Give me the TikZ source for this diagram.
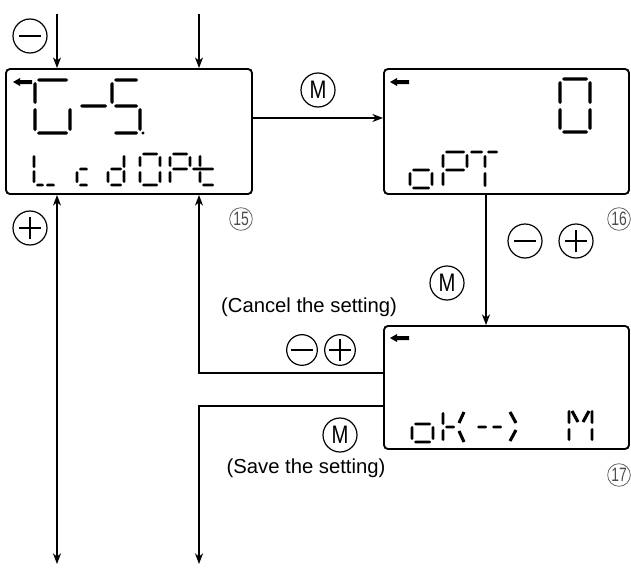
\documentclass[tikz,border=0pt]{standalone}
\usepackage{fontspec}
\usepackage{graphicx}
\setmainfont{Liberation Sans}
\usetikzlibrary{arrows.meta,calc}
\def\sh{1.6}
\newcommand\segH[3]{\fill ({#1},{#3}) -- ({#1+\sh},{#3-\sh}) -- ({#2-\sh},{#3-\sh}) -- ({#2},{#3}) -- ({#2-\sh},{#3+\sh}) -- ({#1+\sh},{#3+\sh}) -- cycle;}
\newcommand\segV[3]{\fill ({#1},{#2}) -- ({#1+\sh},{#2+\sh}) -- ({#1+\sh},{#3-\sh}) -- ({#1},{#3}) -- ({#1-\sh},{#3-\sh}) -- ({#1-\sh},{#2+\sh}) -- cycle;}
\newcommand\segD[4]{\draw[line width=2.3pt] (#1,#2) -- (#3,#4);}
\newcommand\lcdarrow[2]{\fill (#1,#2) -- ({#1+7},{#2-4}) -- ({#1+7},{#2-2}) -- ({#1+19},{#2-2}) -- ({#1+19},{#2+2}) -- ({#1+7},{#2+2}) -- ({#1+7},{#2+4}) -- cycle;}
\begin{document}
\begin{tikzpicture}[x=0.75pt,y=-0.75pt,
  panel/.style={draw, line width=1.4pt, rounded corners=3pt, inner sep=0},
  conn/.style={line width=1.1pt},
  arr/.style={conn, -{Stealth[length=8pt,width=6pt,inset=2.5pt]}},
  arrboth/.style={conn, {Stealth[length=8pt,width=6pt,inset=2.5pt]}-{Stealth[length=8pt,width=6pt,inset=2.5pt]}},
  btn/.style={circle, draw, line width=0.9pt, minimum size=25.5pt, inner sep=0},
  minusb/.style={btn, path picture={\draw[line width=0.9pt] ($(path picture bounding box.center)+(-11,0)$) -- ++(22,0);}},
  plusb/.style={btn, path picture={\draw[line width=0.9pt] ($(path picture bounding box.center)+(-11,0)$) -- ++(22,0) ($(path picture bounding box.center)+(0,-11)$) -- ++(0,22);}},
  mb/.style={btn, font=\fontsize{19}{19}\selectfont},
  numc/.style={circle, draw=black!60, text=black!70, line width=0.6pt, minimum size=17pt, inner sep=0, font=\fontsize{14.5}{14.5}\selectfont},
  lab/.style={inner sep=0, font=\fontsize{15.2}{17}\selectfont}
]
\useasboundingbox (0,0) rectangle (631,567);

% panels
\node[panel, minimum width=184.5pt, minimum height=93.75pt] (p1) at (129,131.5) {};
\node[panel, minimum width=183.75pt, minimum height=93.75pt] (p2) at (506.5,131.5) {};
\node[panel, minimum width=183.75pt, minimum height=92.25pt] (p3) at (506.5,387.5) {};

% coordinates
\coordinate (t1) at (57,14);
\coordinate (t2) at (199,14);
\coordinate (m1) at (0,118);
\coordinate (v1) at (486,0);
\coordinate (b1) at (57,564);
\coordinate (c1) at (199,373);
\coordinate (s1) at (199,406);
\coordinate (s2) at (199,564);

% connectors
\draw[arr] (t1) -- (t1 |- p1.north);
\draw[arr] (t2) -- (t2 |- p1.north);
\draw[arr] (p1.east |- m1) -- (p2.west |- m1);
\draw[arr] (v1 |- p2.south) -- (v1 |- p3.north);
\draw[arrboth] (b1 |- p1.south) -- (b1);
\draw[arr] (p3.west |- c1) -- (c1) -- (c1 |- p1.south);
\draw[arr] (p3.west |- s1) -- (s1) -- (s2);

% buttons
\node[minusb] (k1) at (30,36) {};
\node[plusb] (k2) at (30,228) {};
\node[mb] (k3) at (318,90) {\scalebox{0.8}[1]{M}};
\node[minusb] (k4) at (525,241) {};
\node[plusb] (k5) at (576,241) {};
\node[mb] (k6) at (447,283) {\scalebox{0.8}[1]{M}};
\node[minusb, minimum size=23pt] (k7) at (302,350) {};
\node[plusb, minimum size=23pt] (k8) at (340,350) {};
\node[mb] (k9) at (340,435) {\scalebox{0.8}[1]{M}};

% step numbers
\node[numc] (n15) at (241,219) {\scalebox{0.72}[1]{15}};
\node[numc] (n16) at (619,219) {\scalebox{0.72}[1]{16}};
\node[numc] (n17) at (619,475) {\scalebox{0.72}[1]{17}};

% labels
\node[lab] (l1) at (309,307) {(Cancel the setting)};
\node[lab] (l2) at (306,468) {(Save the setting)};

% ---------- LCD panel 1 ----------
\lcdarrow{13}{82}
% G
\segH{37}{68}{80}
\segV{35}{82}{104}
\segV{35}{108}{131}
\segH{37}{68}{133}
\segV{70}{108}{131}
% -
\segH{80}{107}{106}
% S
\segH{114}{138}{80}
\segV{112}{82}{104}
\segH{114}{138}{106}
\segV{140}{108}{131}
\segH{114}{138}{133}
\fill (143,133) circle (1.7);
% L
\def\sh{1.4}
\segV{34}{155}{168}
\segV{34}{170}{183}
\segH{36}{44}{185}
\segH{46}{55}{185}
% c
\segH{79}{88}{169}
\segV{77}{171}{183}
\segH{79}{88}{185}
% d
\segV{124}{155}{168}
\segV{124}{170}{183}
\segH{110}{122}{169}
\segV{108}{171}{183}
\segH{110}{122}{185}
% 0
\segH{142}{158}{154}
\segV{160}{156}{167}
\segV{160}{171}{183}
\segH{142}{158}{185}
\segV{140}{171}{183}
\segV{140}{156}{167}
% P
\segH{172}{188}{154}
\segV{190}{156}{167}
\segV{170}{156}{167}
\segH{172}{188}{169}
\segV{170}{171}{183}
% t
\segV{200}{155}{167}
\segV{200}{171}{183}
\segH{192}{214}{169}
\segH{202}{214}{185}

% ---------- LCD panel 2 ----------
\lcdarrow{390}{82}
\def\sh{1.6}
\segH{562}{588}{79}
\segV{560}{81}{104}
\segV{560}{108}{130}
\segV{590}{81}{104}
\segV{590}{108}{130}
\segH{562}{588}{132}
\def\sh{1.4}
% o
\segH{412}{430}{170}
\segV{410}{172}{186}
\segV{432}{172}{186}
\segH{412}{430}{188}
% P
\segH{445}{465}{152}
\segV{443}{154}{168}
\segV{467}{154}{168}
\segH{445}{465}{170}
\segV{443}{172}{186}
% T
\segH{470}{483}{152}
\segH{487}{498}{152}
\segV{485}{155}{168}
\segV{485}{172}{187}

% ---------- LCD panel 3 ----------
\lcdarrow{390}{338}
% o
\segH{414}{431}{424}
\segV{412}{426}{440}
\segV{433}{426}{440}
\segH{414}{431}{442}
% k
\segV{443}{412}{425}
\segV{443}{429}{441}
\segH{445}{455}{427}
\segD{464}{412}{459}{423}
\segD{459}{431}{464}{442}
% --
\segH{477}{487}{427}
\segH{492}{502}{427}
% >
\segD{510}{412}{516}{423}
\segD{516}{430}{510}{441}
% M
\segV{569}{410}{424}
\segV{569}{428}{441}
\segV{592}{410}{424}
\segV{592}{428}{441}
\segD{572}{411}{578}{422}
\segD{589}{411}{583}{422}
\end{tikzpicture}
\end{document}
